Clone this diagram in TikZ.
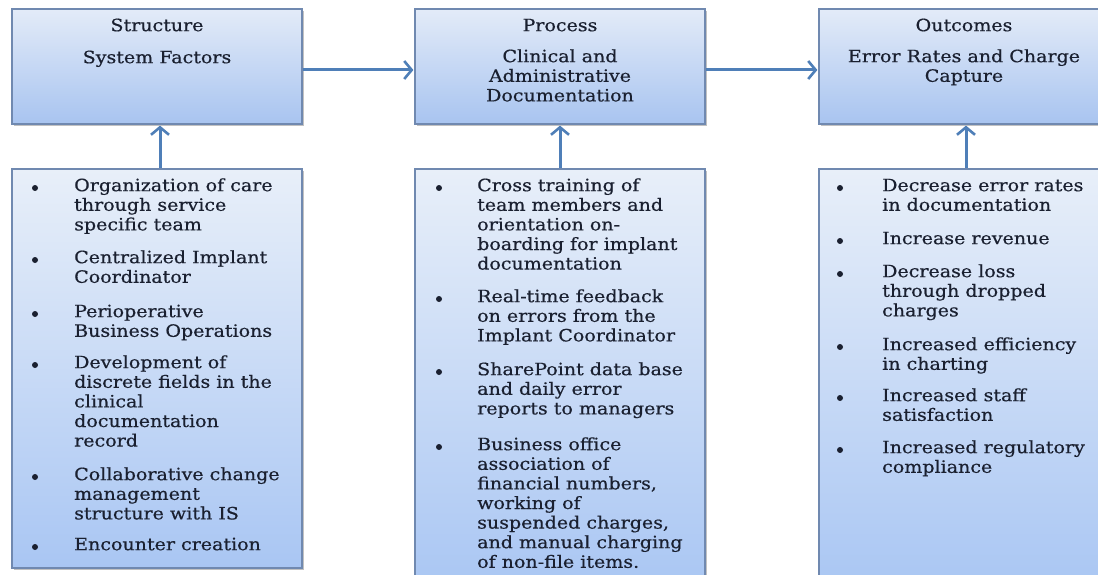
\documentclass[tikz,border=0pt]{standalone}
\usepackage{fontspec}
\setmainfont[FakeStretch=1.12,FakeBold=0.5]{DejaVu Serif}
\usetikzlibrary{arrows.meta,shadows}
\definecolor{boxline}{HTML}{7089B0}
\definecolor{topA}{HTML}{E3EBF8}
\definecolor{topB}{HTML}{A8C4F0}
\definecolor{lowA}{HTML}{E8EFF9}
\definecolor{lowB}{HTML}{A9C6F3}
\definecolor{ink}{HTML}{1A2030}
\definecolor{arrowblue}{HTML}{4F7FB8}
\begin{document}
\begin{tikzpicture}[x=1pt,y=-1pt,
  txtfont/.style={font=\fontsize{17}{19.6}\selectfont, text=ink},
  boxshadow/.style={drop shadow={shadow xshift=1.5pt,shadow yshift=-1.8pt,opacity=0.4,fill=black!60}},
  topbox/.style={draw=boxline, line width=1.2pt, top color=topA, bottom color=topB,
    minimum width=290pt, minimum height=115pt, inner sep=0pt, boxshadow},
  lowbox/.style={draw=boxline, line width=1.2pt, top color=lowA, bottom color=lowB,
    minimum width=290pt, inner sep=0pt, boxshadow},
  title/.style={txtfont, inner sep=0pt, anchor=north, align=center},
  entry/.style={txtfont, inner sep=0pt, anchor=north west, align=left},
  dot/.style={circle, fill=ink, minimum size=6pt, inner sep=0pt},
  conn/.style={draw=arrowblue, line width=3pt,
    -{Straight Barb[length=7.5pt,width=18pt,line width=2.6pt]}}]
\useasboundingbox (0,0) rectangle (1098,575);
\clip (0,0) rectangle (1098,575);
\fill[white] (0,0) rectangle (1098,575);

% upper row: structure, process, outcomes
\node[topbox] (b1) at (157,66.5) {};
\node[topbox] (b2) at (560,66.5) {};
\node[topbox] (b3) at (964,66.5) {};

\node[title] (b1t) at (157,16) {\rule{0pt}{15pt}Structure};
\node[title] (b1s) at (157,48) {\rule{0pt}{15pt}System Factors};
\node[title] (b2t) at (560,16) {\rule{0pt}{15pt}Process};
\node[title] (b2s) at (560,47) {\rule{0pt}{15pt}Clinical and\\Administrative\\Documentation};
\node[title] (b3t) at (964,16) {\rule{0pt}{15pt}Outcomes};
\node[title] (b3s) at (964,47) {\rule{0pt}{15pt}Error Rates and Charge\\Capture};

% lower row: the contributing items
\node[lowbox, minimum height=399pt] (l1) at (157,368.5) {};
\node[lowbox, minimum height=421pt] (l2) at (560,379.5) {};
\node[lowbox, minimum height=421pt] (l3) at (964,379.5) {};

% structure items
\node[dot] (d11) at (35,188) {};
\node[entry] (e11) at (74,176) {\rule{0pt}{15pt}Organization of care\\through service\\specific team};
\node[dot] (d12) at (35,260) {};
\node[entry] (e12) at (74,248) {\rule{0pt}{15pt}Centralized Implant\\Coordinator};
\node[dot] (d13) at (35,314) {};
\node[entry] (e13) at (74,302) {\rule{0pt}{15pt}Perioperative\\Business Operations};
\node[dot] (d14) at (35,365) {};
\node[entry] (e14) at (74,353) {\rule{0pt}{15pt}Development of\\discrete fields in the\\clinical\\documentation\\record};
\node[dot] (d15) at (35,477) {};
\node[entry] (e15) at (74,465) {\rule{0pt}{15pt}Collaborative change\\management\\structure with IS};
\node[dot] (d16) at (35,547) {};
\node[entry] (e16) at (74,535) {\rule{0pt}{15pt}Encounter creation};

% process items
\node[dot] (d21) at (439,188) {};
\node[entry] (e21) at (477,176) {\rule{0pt}{15pt}Cross training of\\team members and\\orientation on-\\boarding for implant\\documentation};
\node[dot] (d22) at (439,299) {};
\node[entry] (e22) at (477,287) {\rule{0pt}{15pt}Real-time feedback\\on errors from the\\Implant Coordinator};
\node[dot] (d23) at (439,372) {};
\node[entry] (e23) at (477,360) {\rule{0pt}{15pt}SharePoint data base\\and daily error\\reports to managers};
\node[dot] (d24) at (439,447) {};
\node[entry] (e24) at (477,435) {\rule{0pt}{15pt}Business office\\association of\\financial numbers,\\working of\\suspended charges,\\and manual charging\\of non-file items.};

% outcome items
\node[dot] (d31) at (840,188) {};
\node[entry] (e31) at (882,176) {\rule{0pt}{15pt}Decrease error rates\\in documentation};
\node[dot] (d32) at (840,241) {};
\node[entry] (e32) at (882,229) {\rule{0pt}{15pt}Increase revenue};
\node[dot] (d33) at (840,274) {};
\node[entry] (e33) at (882,262) {\rule{0pt}{15pt}Decrease loss\\through dropped\\charges};
\node[dot] (d34) at (840,347) {};
\node[entry] (e34) at (882,335) {\rule{0pt}{15pt}Increased efficiency\\in charting};
\node[dot] (d35) at (840,398) {};
\node[entry] (e35) at (882,386) {\rule{0pt}{15pt}Increased staff\\satisfaction};
\node[dot] (d36) at (840,450) {};
\node[entry] (e36) at (882,438) {\rule{0pt}{15pt}Increased regulatory\\compliance};

% connectors
\draw[conn] ([yshift=-3.5pt]b1.east) -- ([yshift=-3.5pt,xshift=-1pt]b2.west);
\draw[conn] ([yshift=-3.5pt]b2.east) -- ([yshift=-3.5pt,xshift=-1pt]b3.west);
\draw[conn] ([xshift=3pt]l1.north) -- ([xshift=3pt,yshift=-1pt]b1.south);
\draw[conn] (l2.north) -- ([yshift=-1pt]b2.south);
\draw[conn] ([xshift=2pt]l3.north) -- ([xshift=2pt,yshift=-1pt]b3.south);
\end{tikzpicture}
\end{document}
